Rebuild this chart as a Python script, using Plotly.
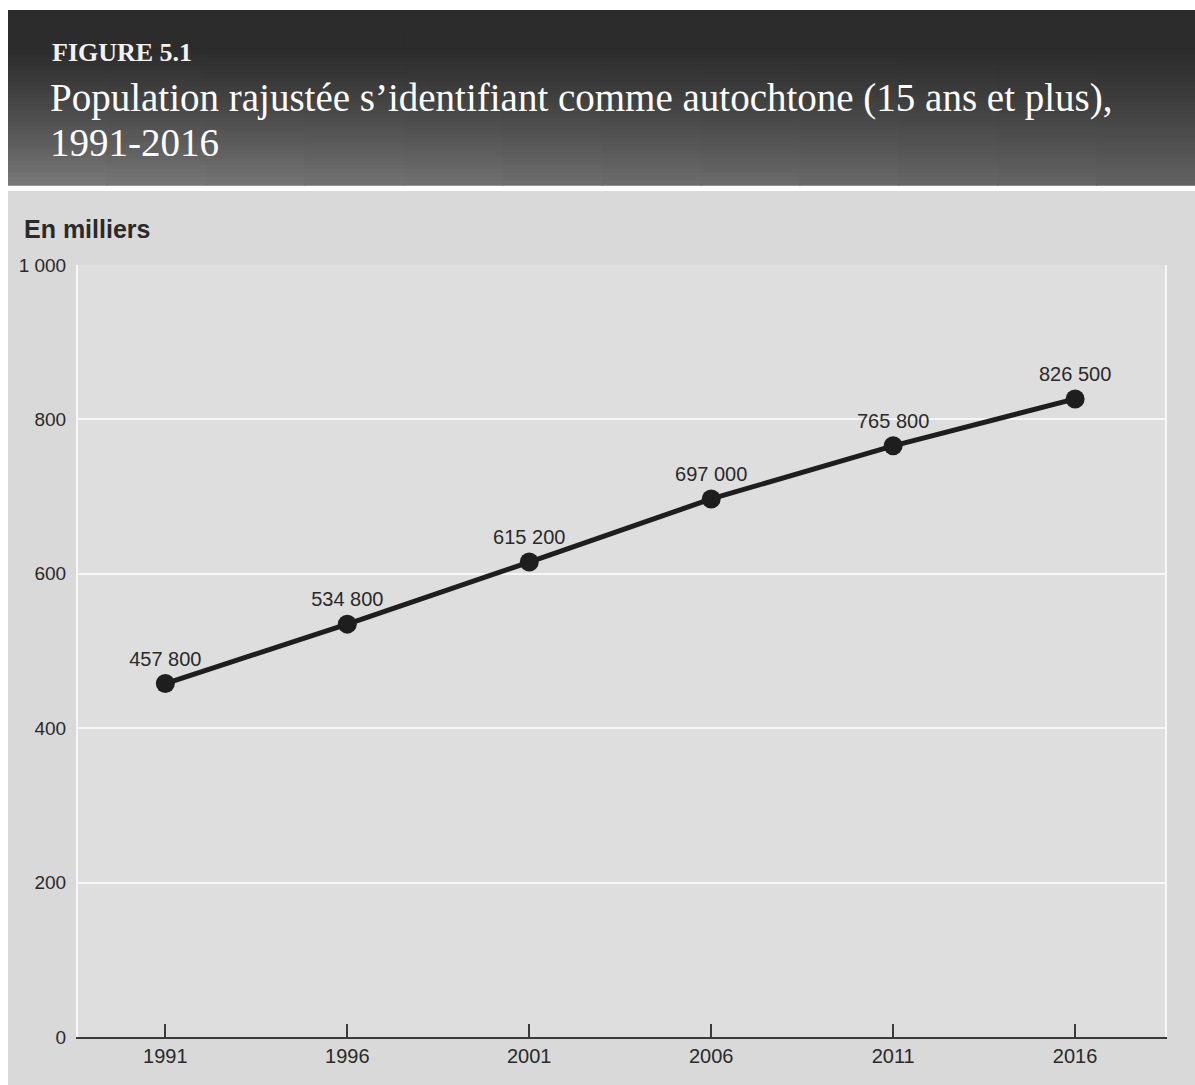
import plotly.graph_objects as go

# Adjusted population identifying as Indigenous, 15 years and over (thousands)
years = [1991, 1996, 2001, 2006, 2011, 2016]
population = [457.8, 534.8, 615.2, 697.0, 765.8, 826.5]
y_ticks = [0, 200, 400, 600, 800, 1000]
y_tick_labels = ["0", "200", "400", "600", "800", "1 000"]

fig_label = "FIGURE 5.1"
title_line1 = "Population rajustée s’identifiant comme autochtone (15 ans et plus),"
title_line2 = "1991-2016"
unit_label = "En milliers"

W, H = 1195, 1085
L, R, T, B = 78, 1165, 265, 1037  # plot area in pixels


def px(x):
    return (x - L) / (R - L)


def py(y):
    return (B - y) / (B - T)


def fmt(v):
    return f"{int(round(v * 1000)):,}".replace(",", " ")


sans = "Liberation Sans, Arial, sans-serif"
serif = "Liberation Serif, Times New Roman, serif"

shapes = []

# page background below the header
shapes.append(dict(type="rect", xref="paper", yref="paper", layer="below",
                   x0=px(8), x1=px(W + 5), y0=py(191), y1=py(H + 5),
                   fillcolor="#d9d9d9", line=dict(width=0)))
# plot area
shapes.append(dict(type="rect", xref="paper", yref="paper", layer="below",
                   x0=0, x1=1, y0=0, y1=1,
                   fillcolor="#dedede", line=dict(width=0)))

# header band with a dark-to-grey gradient
hx0, hx1, hy0, hy1 = 8, W, 10, 185
rows, cols = 44, 12
for i in range(rows):
    ya = hy0 + (hy1 - hy0) * i / rows
    yb = hy0 + (hy1 - hy0) * (i + 1) / rows
    t = (i + 0.5) / rows
    for j in range(cols):
        xa = hx0 + (hx1 - hx0) * j / cols
        xb = hx0 + (hx1 - hx0) * (j + 1) / cols
        s = (j + 0.5) / cols
        k = max(0.0, (t - 0.2) / 0.8) ** 1.2
        lift = (122 - 44) * k * (1 - 0.3 * s)
        g = int(44 + lift)
        shapes.append(dict(type="rect", xref="paper", yref="paper", layer="below",
                           x0=px(xa), x1=px(xb) + 0.001, y0=py(yb) - 0.001, y1=py(ya),
                           fillcolor=f"rgb({g},{g},{g})", line=dict(width=0)))

annotations = [
    dict(text=f"<b>{fig_label}</b>", x=px(50), y=py(53), xref="paper", yref="paper",
         xanchor="left", yanchor="middle", showarrow=False,
         font=dict(family=serif, size=26, color="#f2f2f2")),
    dict(text=title_line1, x=px(48), y=py(98), xref="paper", yref="paper",
         xanchor="left", yanchor="middle", showarrow=False,
         font=dict(family=serif, size=39, color="#ffffff")),
    dict(text=title_line2, x=px(48), y=py(142), xref="paper", yref="paper",
         xanchor="left", yanchor="middle", showarrow=False,
         font=dict(family=serif, size=39, color="#ffffff")),
    dict(text=f"<b>{unit_label}</b>", x=px(22), y=py(229), xref="paper", yref="paper",
         xanchor="left", yanchor="middle", showarrow=False,
         font=dict(family=sans, size=25, color="#2a2a2a")),
]

fig = go.Figure(go.Scatter(
    x=years, y=population,
    mode="lines+markers+text",
    line=dict(color="#1e1e1e", width=5),
    marker=dict(size=19, color="#1e1e1e"),
    text=[fmt(v) for v in population],
    textposition="top center",
    textfont=dict(family=sans, size=20, color="#2a2a2a"),
    cliponaxis=False,
    hoverinfo="skip",
))

fig.update_layout(
    width=W, height=H, autosize=False,
    margin=dict(l=L, r=W - R, t=T, b=H - B, pad=0),
    paper_bgcolor="#ffffff",
    plot_bgcolor="rgba(0,0,0,0)",
    showlegend=False,
    shapes=shapes,
    annotations=annotations,
    xaxis=dict(
        range=[1988.6, 2018.47],
        tickvals=years,
        ticktext=[str(y) for y in years],
        showgrid=False, zeroline=False,
        showline=True, linecolor="#3a3a3a", linewidth=2,
        ticks="inside", ticklen=13, tickwidth=2, tickcolor="#3a3a3a",
        tickfont=dict(family=sans, size=20, color="#2a2a2a"),
        fixedrange=True,
    ),
    yaxis=dict(
        range=[0, 1000],
        tickvals=y_ticks,
        ticktext=y_tick_labels,
        showgrid=True, gridcolor="#f7f7f7", gridwidth=2,
        zeroline=False,
        showline=True, linecolor="#f7f7f7", linewidth=2, mirror=True,
        ticks="", ticklabelstandoff=6,
        tickfont=dict(family=sans, size=19, color="#2a2a2a"),
        fixedrange=True,
    ),
)

fig.write_html("out.html")
